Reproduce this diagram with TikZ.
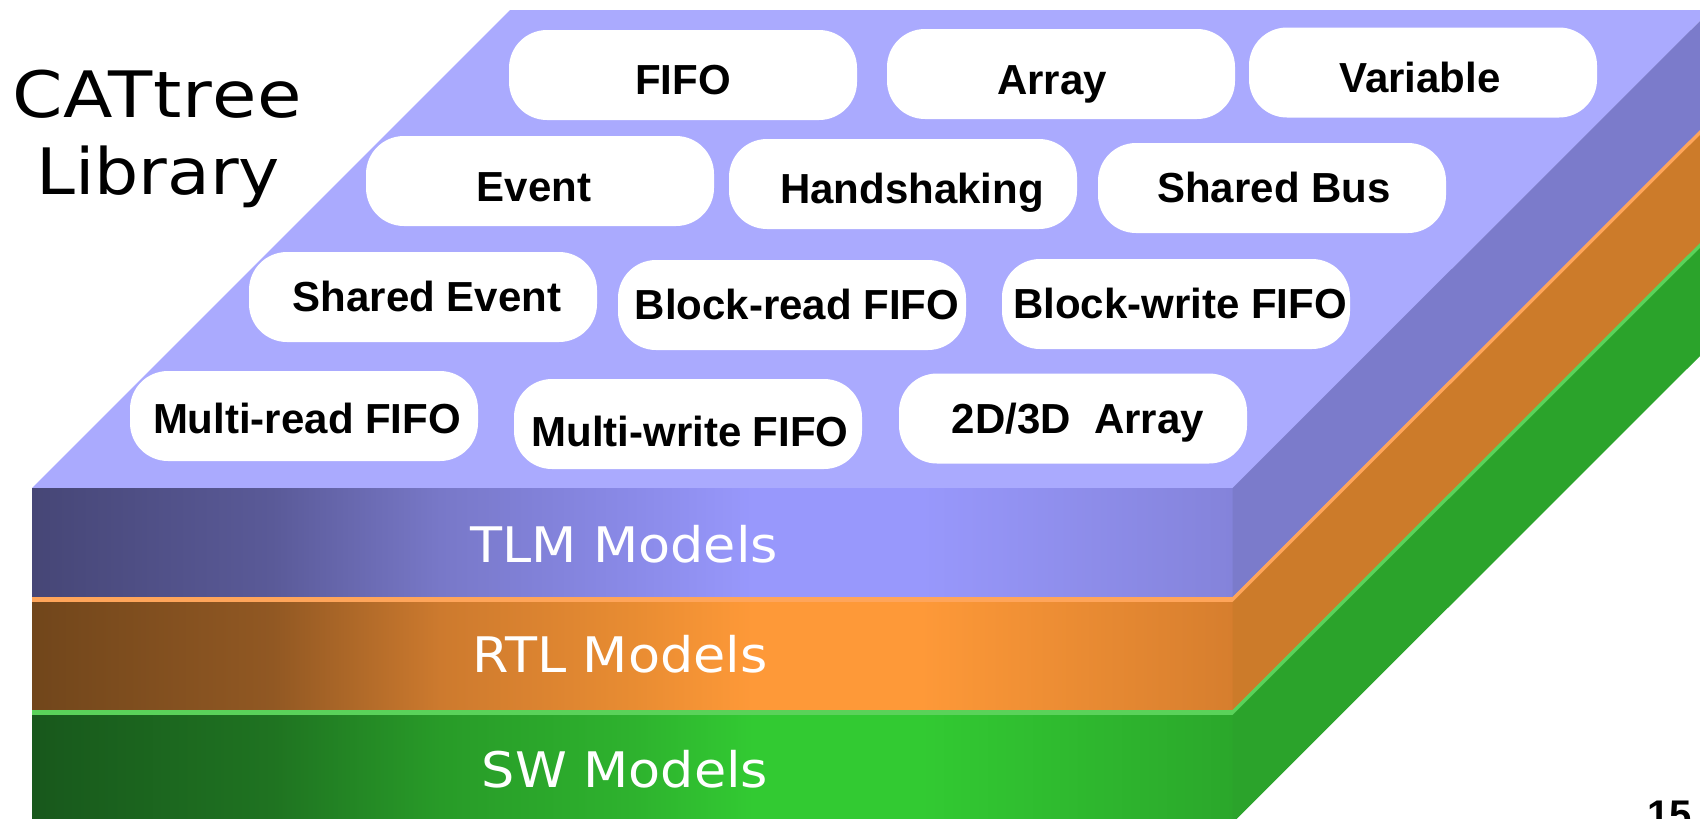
\documentclass[tikz,border=0pt]{standalone}
\usepackage{fontspec}
\setmainfont{Liberation Sans}
\newfontfamily\titlefont[FakeStretch=1.09]{DejaVu Sans}
\newfontfamily\titlewidefont[FakeStretch=1.13,LetterSpace=1.5]{DejaVu Sans}
\newfontfamily\layerfont[FakeStretch=1.07]{DejaVu Sans}

% surfaces
\definecolor{topface}{RGB}{170,170,254}
\definecolor{tlmside}{RGB}{123,123,203}
\definecolor{rtlside}{RGB}{204,123,42}
\definecolor{swside}{RGB}{43,163,43}
\definecolor{rtlrim}{RGB}{255,165,90}
\definecolor{swrim}{RGB}{90,210,90}
% front gradients
\definecolor{tlmA}{RGB}{70,70,118}
\definecolor{tlmB}{RGB}{90,90,152}
\definecolor{tlmC}{RGB}{120,120,200}
\definecolor{tlmD}{RGB}{138,138,232}
\definecolor{tlmE}{RGB}{152,152,252}
\definecolor{tlmF}{RGB}{132,131,218}
\definecolor{rtlA}{RGB}{113,70,27}
\definecolor{rtlB}{RGB}{145,88,35}
\definecolor{rtlC}{RGB}{205,122,46}
\definecolor{rtlD}{RGB}{232,140,50}
\definecolor{rtlE}{RGB}{254,153,56}
\definecolor{rtlF}{RGB}{214,126,46}
\definecolor{swA}{RGB}{24,88,28}
\definecolor{swB}{RGB}{31,115,33}
\definecolor{swC}{RGB}{40,155,40}
\definecolor{swD}{RGB}{46,178,46}
\definecolor{swE}{RGB}{50,202,50}
\definecolor{swF}{RGB}{43,167,43}

\pgfdeclarehorizontalshading{tlmgrad}{100bp}{color(0bp)=(tlmA); color(25bp)=(tlmA); color(35bp)=(tlmB); color(42bp)=(tlmC); color(50bp)=(tlmD); color(55bp)=(tlmE); color(62bp)=(tlmE); color(75bp)=(tlmF); color(100bp)=(tlmF)}
\pgfdeclarehorizontalshading{rtlgrad}{100bp}{color(0bp)=(rtlA); color(25bp)=(rtlA); color(35bp)=(rtlB); color(42bp)=(rtlC); color(50bp)=(rtlD); color(55bp)=(rtlE); color(62bp)=(rtlE); color(75bp)=(rtlF); color(100bp)=(rtlF)}
\pgfdeclarehorizontalshading{swgrad}{100bp}{color(0bp)=(swA); color(25bp)=(swA); color(35bp)=(swB); color(42bp)=(swC); color(50bp)=(swD); color(55bp)=(swE); color(62bp)=(swE); color(75bp)=(swF); color(100bp)=(swF)}

\tikzset{
  pill/.style={fill=white, rounded corners=38pt, minimum width=348pt,
    minimum height=90pt, inner sep=0pt},
  pilltext/.style={font=\fontsize{42}{42}\selectfont\bfseries,
    text height=31pt, text depth=0pt, inner sep=0pt},
  layertext/.style={font=\layerfont\fontsize{49}{49}\selectfont, text=white,
    text height=35.7pt, text depth=0pt, inner sep=0pt},
  titletext/.style={font=\titlefont\fontsize{64}{64}\selectfont,
    inner sep=0pt, anchor=base west}
}

\begin{document}
\begin{tikzpicture}[x=1pt,y=-1pt]
\useasboundingbox (0,0) rectangle (1700,819);
\clip (0,0) rectangle (1700,819);

% top face of the slab
\fill[topface] (32,488) -- (1233,488) -- (1711,10) -- (510,10) -- cycle;

% TLM layer
\shade[shading=tlmgrad] (32,488) rectangle (1233,597.5);
\fill[tlmside] (1232.5,488) -- (1711,10) -- (1711,120) -- (1232.5,597.5) -- cycle;
% rim between TLM and RTL
\fill[rtlrim] (32,597) rectangle (1233,602.5);
\fill[rtlrim] (1232.5,597) -- (1711,119) -- (1711,125) -- (1232.5,602.5) -- cycle;
% RTL layer
\shade[shading=rtlgrad] (32,602) rectangle (1233,710.5);
\fill[rtlside] (1232.5,602) -- (1711,124) -- (1711,233) -- (1232.5,710.5) -- cycle;
% rim between RTL and SW
\fill[swrim] (32,710) rectangle (1233,715.5);
\fill[swrim] (1232.5,710) -- (1711,232) -- (1711,238) -- (1232.5,715.5) -- cycle;
% SW layer
\shade[shading=swgrad] (32,715) rectangle (1233,823);
\fill[swside] (1232.5,715) -- (1711,237) -- (1711,345) -- (1232.5,823) -- cycle;

% library components
\node[pill] (p1)  at (683,75)    {};
\node[pill] (p2)  at (1061,74)   {};
\node[pill] (p3)  at (1423,72.5) {};
\node[pill] (p4)  at (540,181)   {};
\node[pill] (p5)  at (903,184)   {};
\node[pill] (p6)  at (1272,188)  {};
\node[pill] (p7)  at (423,297)   {};
\node[pill] (p8)  at (792,305)   {};
\node[pill] (p9)  at (1176,304)  {};
\node[pill] (p10) at (304,416)   {};
\node[pill] (p11) at (688,424)   {};
\node[pill] (p12) at (1073,418.5){};

\node[pilltext] (t1)  at (683,79)    {FIFO};
\node[pilltext] (t2)  at (1052,79)   {Array};
\node[pilltext] (t3)  at (1420,77)   {Variable};
\node[pilltext] (t4)  at (534,186)   {Event};
\node[pilltext] (t5)  at (912,188)   {Handshaking};
\node[pilltext] (t6)  at (1274,187)  {Shared Bus};
\node[pilltext] (t7)  at (427,295.5) {Shared Event};
\node[pilltext] (t8)  at (797,304)   {Block-read FIFO};
\node[pilltext] (t9)  at (1180,302.5){Block-write FIFO};
\node[pilltext] (t10) at (307,417.5) {Multi-read FIFO};
\node[pilltext] (t11) at (690,431)   {Multi-write FIFO};
\node[pilltext] (t12) at (1078,417.5){2D/3D\ \ Array};

% layer names
\node[layertext] (lt) at (624,545)   {TLM Models};
\node[layertext] (lr) at (620,654.5) {RTL Models};
\node[layertext] (ls) at (625,769.5) {SW Models};

% title
\node[titletext, font=\titlewidefont\fontsize{64}{64}\selectfont] (ti1) at (12,117) {CATtree};
\node[titletext] (ti2) at (36,194) {Library};

% page number
\node[font=\fontsize{40}{40}\selectfont\bfseries, inner sep=0pt, anchor=base west]
  (pg) at (1647,828) {15};
\end{tikzpicture}
\end{document}
